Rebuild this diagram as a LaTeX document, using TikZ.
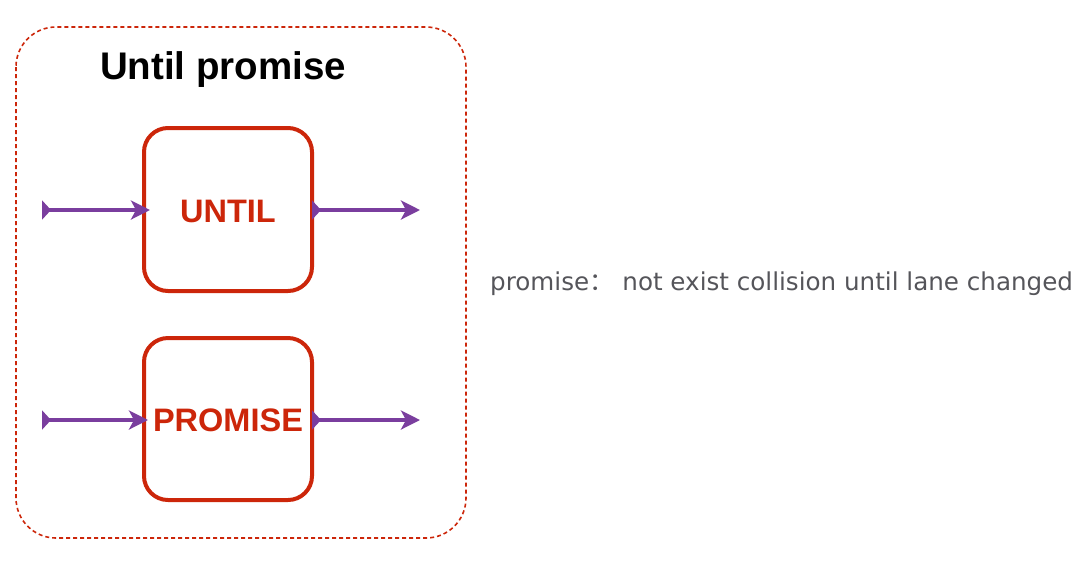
\documentclass[tikz,border=0pt]{standalone}
\usepackage{fontspec}
\setmainfont{Liberation Sans}
\newfontfamily\cjk{Noto Sans CJK SC}
\newfontfamily\notefont{DejaVu Sans}
\usetikzlibrary{arrows.meta}
\definecolor{myred}{RGB}{204,38,10}
\definecolor{mypurple}{RGB}{122,62,158}
\definecolor{mygray}{RGB}{85,85,90}
\tikzset{
  outer/.style={draw=myred, line width=1.6pt, dash pattern=on 4pt off 3pt, rounded corners=40pt},
  opbox/.style={draw=myred, line width=4pt, rounded corners=24pt},
  flow/.style={draw=mypurple, line width=4.5pt, {Triangle[reversed,width=19pt,length=9pt]}-{Stealth[width=19pt,length=19pt,inset=5pt]}},
  optext/.style={text=myred, font=\bfseries\fontsize{32.5}{32}\selectfont},
}
\begin{document}
\begin{tikzpicture}[x=1pt,y=-1pt]
\useasboundingbox (0,0) rectangle (1086,566);
\draw[outer] (16,27) rectangle (466,538);
\node (title) at (223,70) {\bfseries\fontsize{38.5}{38}\selectfont Until promise};
\draw[opbox] (144,128) rectangle (312,291);
\draw[opbox] (144,338) rectangle (312,500);
\node[optext] (until) at (228,211) {UNTIL};
\node[optext] (promise) at (228,420) {PROMISE};
\coordinate (a1) at (42,210);
\coordinate (a2) at (150,210);
\coordinate (a3) at (312,210);
\coordinate (a4) at (420,210);
\coordinate (b1) at (42,420);
\coordinate (b2) at (148,420);
\coordinate (b3) at (312,420);
\coordinate (b4) at (420,420);
\draw[flow] (a1) -- (a2);
\draw[flow] (a3) -- (a4);
\draw[flow] (b1) -- (b2);
\draw[flow] (b3) -- (b4);
\node[anchor=base west, text=mygray, font=\notefont\fontsize{24.6}{25}\selectfont, inner sep=0pt] (note) at (490,290) {promise{\cjk ：}\hspace{0.35em}not exist collision until lane changed};
\end{tikzpicture}
\end{document}
